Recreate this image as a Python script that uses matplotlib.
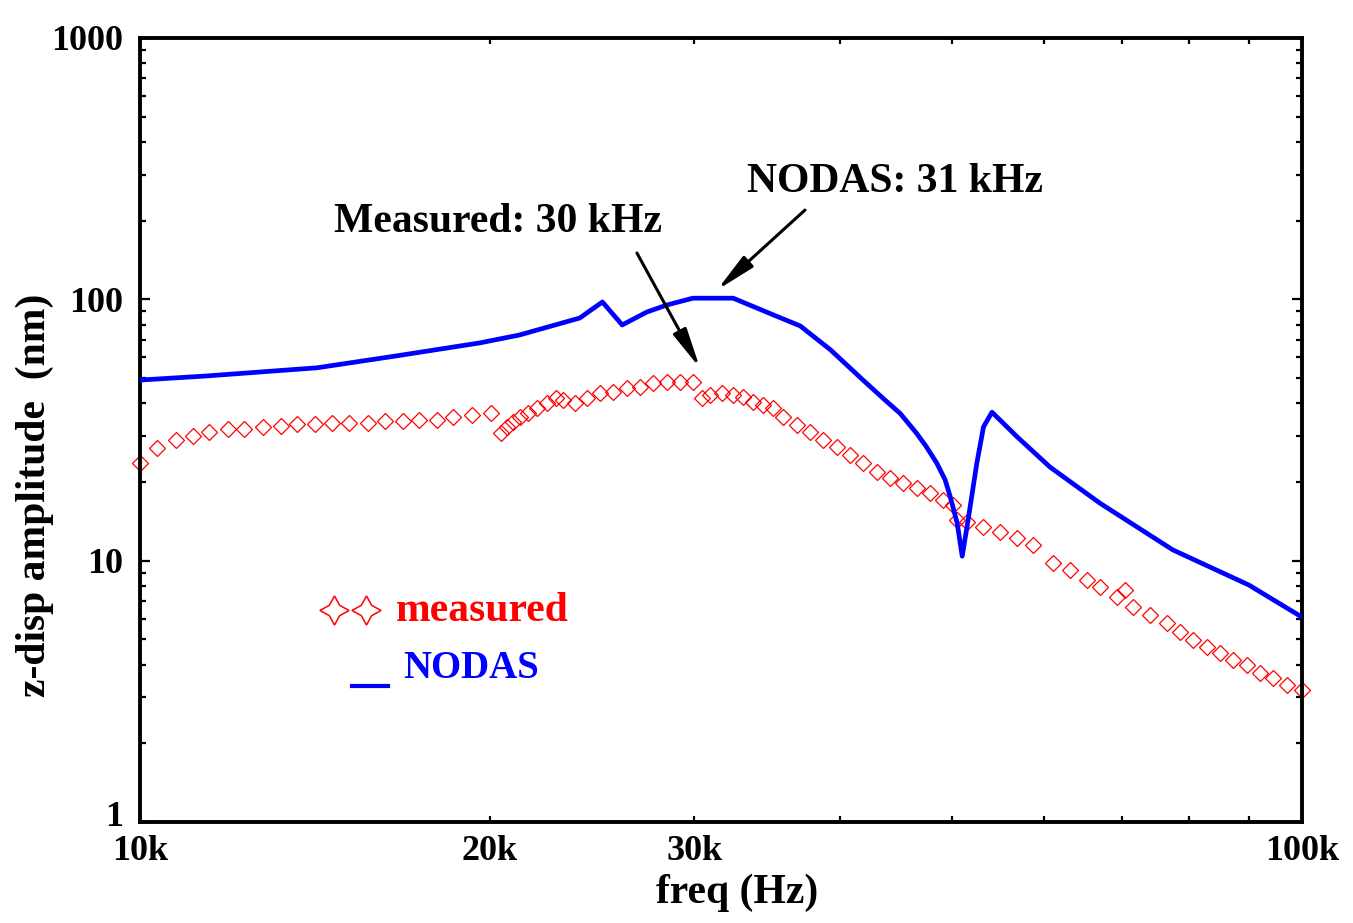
# -*- coding: utf-8 -*-
import numpy as np
import matplotlib
matplotlib.use('Agg')
import matplotlib.pyplot as plt
from matplotlib.lines import Line2D
from matplotlib.transforms import ScaledTranslation

# frequency response data (kHz, nm)
nodas_f = [10.0, 11.4, 14.2, 16.6, 19.6, 21.2, 23.9, 25.0, 26.0, 27.3, 28.4, 29.9,
           32.4, 35.1, 37.0, 39.3, 41.9, 43.6, 45.1, 46.6, 47.5, 48.5, 49.3, 49.8,
           50.5, 51.0, 51.6, 52.5, 53.2, 54.1, 56.9, 60.7, 67.0, 77.4, 90.0, 100.0]
nodas_z = [49.1, 50.9, 54.7, 60.7, 68.1, 73.0, 84.8, 97.7, 79.8, 89.4, 95.1, 101.0,
           101.0, 87.1, 79.1, 64.0, 49.1, 41.8, 36.6, 30.7, 27.3, 23.6, 20.4, 17.6,
           13.9, 10.4, 14.3, 23.6, 32.5, 37.0, 29.7, 22.8, 16.6, 11.0, 8.07, 6.08]

meas_f = [10.0, 10.35, 10.73, 11.11, 11.47, 11.90, 12.30, 12.75, 13.22, 13.64, 14.15,
          14.62, 15.14, 15.70, 16.25, 16.83, 17.39, 18.03, 18.60, 19.32, 20.04,
          20.44, 20.69, 20.96, 21.23, 21.59, 21.95, 22.39, 22.80, 23.13, 23.67,
          24.23, 24.88, 25.54, 26.23, 26.93, 27.65, 28.40, 29.15, 29.94,
          30.44, 30.94, 31.67, 32.40, 33.05, 33.71, 34.39, 35.08, 35.78, 36.73,
          37.72, 38.73, 39.78, 40.83, 41.93, 43.06, 44.21, 45.39, 46.61, 47.86,
          49.13, 50.12, 50.45, 51.45, 53.18, 54.97, 56.83, 58.72, 61.1, 63.1,
          65.3, 67.0, 69.3, 70.4, 71.6, 74.0, 76.5, 78.5, 80.6, 82.8, 85.0, 87.3,
          89.6, 92.0, 94.5, 97.0, 100.0]
meas_z = [23.6, 26.9, 29.0, 30.1, 31.2, 31.8, 31.8, 32.6, 32.8, 33.2, 33.2,
          33.7, 33.7, 33.7, 34.3, 34.3, 34.5, 34.5, 35.6, 36.1, 36.8,
          30.9, 32.6, 34.0, 35.6, 36.6, 38.3, 40.0, 41.8, 41.1, 40.0,
          41.8, 43.7, 44.3, 45.7, 46.3, 47.7, 48.4, 48.4, 48.4,
          41.8, 43.0, 43.7, 43.0, 42.4, 40.6, 39.4, 38.3, 35.6, 33.0,
          31.2, 28.9, 27.3, 25.4, 23.6, 21.9, 20.7, 19.8, 18.9, 18.1,
          17.1, 16.3, 14.3, 14.1, 13.5, 12.9, 12.2, 11.5, 9.77, 9.2,
          8.43, 7.95, 7.28, 7.72, 6.67, 6.20, 5.76, 5.35, 4.97, 4.69, 4.42, 4.17,
          3.98, 3.71, 3.55, 3.34, 3.2]

xtick_vals = [10e3, 20e3, 30e3, 100e3]
xtick_labels = ['10k', '20k', '30k', '100k']
ytick_vals = [1, 10, 100, 1000]
ytick_labels = ['1', '10', '100', '1000']

plt.rcParams['font.family'] = ['Liberation Serif', 'DejaVu Serif']
plt.rcParams['font.weight'] = 'bold'

W, H = 1353, 923
fig = plt.figure(figsize=(W / 100, H / 100), dpi=100)
ax = fig.add_axes([140 / W, 1 - 822 / H, 1162 / W, 784 / H])

ax.plot(np.array(nodas_f) * 1e3, nodas_z, '-', color='#0000ff', lw=3.4, zorder=3)
ax.plot(np.array(meas_f) * 1e3, meas_z, ls='none', marker='D', ms=8, mfc='none',
        mec='#ff0000', mew=0.9, zorder=2, clip_on=False)

ax.set_xscale('log')
ax.set_yscale('log')
ax.set_xlim(10e3, 100e3)
ax.set_ylim(1, 1000)

ax.set_xticks(xtick_vals)
ax.set_xticklabels(xtick_labels)
ax.set_xticks([v * 1e3 for v in range(40, 100, 10)], minor=True)
ax.xaxis.set_minor_formatter(matplotlib.ticker.NullFormatter())
ax.set_yticks(ytick_vals)
ax.set_yticklabels(ytick_labels)
ax.set_yticks([m * 10 ** d for d in range(0, 3) for m in range(2, 10)], minor=True)
ax.yaxis.set_minor_formatter(matplotlib.ticker.NullFormatter())

for s in ax.spines.values():
    s.set_linewidth(2.8)
ax.tick_params(axis='both', which='both', direction='in', top=True, right=True,
               width=1.6, labelsize=26)
ax.tick_params(axis='x', which='both', length=4, pad=9)
ax.tick_params(axis='y', which='major', length=7, pad=12)
ax.tick_params(axis='y', which='minor', length=4)

# lift the "1" a little so it clears "10k"
lab = ax.yaxis.get_major_ticks()[0].label1
lab.set_transform(lab.get_transform() + ScaledTranslation(0, 8 / 100, fig.dpi_scale_trans))

# axis labels
fig.text(737 / W, 1 - 893 / H, 'freq (Hz)', fontsize=30, fontweight='bold',
         ha='center', va='center')
fig.text(35 / W, 1 - 495 / H, 'z-disp amplitude  (nm)', fontsize=30,
         fontweight='bold', ha='center', va='center', rotation=90)

# peak annotations
ax.text(44.6e3, 281, 'NODAS: 31 kHz', fontsize=30, fontweight='bold',
        ha='center', va='center')
ax.text(20.33e3, 197.6, 'Measured: 30 kHz', fontsize=30, fontweight='bold',
        ha='center', va='center')
arrow = dict(arrowstyle='-|>,head_length=1.2,head_width=0.22', lw=2.2,
             color='black', shrinkA=0, shrinkB=0, mutation_scale=20)
ax.annotate('', xy=(30.33e3, 54.6), xytext=(26.77e3, 150.4), arrowprops=arrow)
ax.annotate('', xy=(31.38e3, 108.6), xytext=(37.35e3, 219.6), arrowprops=arrow)

# hand-made legend
for cx in (334, 366):
    fig.add_artist(Line2D([cx / W], [1 - 610 / H], marker=(4, 1, 0), ms=21,
                          mfc='none', mec='#ff0000', mew=1.1, ls='none'))
fig.text(396 / W, 1 - 611 / H, 'measured', color='#ff0000', fontsize=30,
         fontweight='bold', ha='left', va='center')
fig.add_artist(Line2D([352 / W, 388 / W], [1 - 686 / H, 1 - 686 / H],
                      color='#0000ff', lw=3))
fig.text(403 / W, 1 - 668 / H, 'NODAS', color='#0000ff', fontsize=28,
         fontweight='bold', ha='left', va='center')

fig.savefig('out.png', dpi=100)
